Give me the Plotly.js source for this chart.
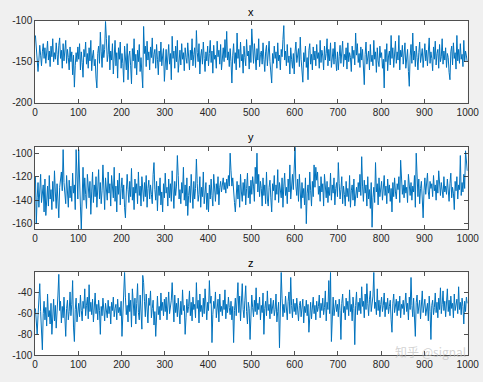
<!DOCTYPE html>
<html>
<head>
<meta charset="utf-8">
<script src="https://cdn.plot.ly/plotly-3.0.1.min.js"></script>
<style>
html,body{margin:0;padding:0;background:#f0f0f0;}
#chart{width:483px;height:382px;}
</style>
</head>
<body>
<div id="chart"></div>
<script>
// Sample numbers: every second sample of 1..1000
const sampleStart = 1;
const sampleStep = 2;

const seriesX = [
-118,-135,-150,-162,-148,-130,-142,-155,-138,-128,-146,-133,-152,-140,-125,-148,-137,-156,-131,-144,-122,-150,-139,-147,-127,
-141,-154,-130,-121,-146,-136,-158,-128,-149,-140,-124,-152,-135,-145,-160,-132,-150,-138,-166,-142,-181,-155,-139,-150,-132,
-147,-128,-160,-138,-151,-169,-135,-144,-126,-153,-140,-158,-133,-149,-124,-161,-143,-136,-155,-147,-170,-182,-140,-131,-152,
-114,-138,-157,-129,-145,-135,-101,-122,-150,-141,-118,-160,-137,-148,-128,-165,-143,-124,-155,-139,-170,-133,-147,-126,-158,
-140,-152,-175,-131,-146,-160,-128,-172,-143,-137,-155,-177,-134,-149,-122,-158,-141,-166,-136,-150,-129,-162,-145,-170,-182,
-107,-140,-131,-156,-125,-148,-138,-160,-132,-145,-121,-152,-141,-135,-158,-129,-147,-166,-137,-150,-126,-155,-143,-134,-174,
-148,-135,-160,-142,-129,-153,-140,-172,-119,-146,-137,-158,-131,-150,-124,-163,-142,-136,-154,-128,-147,-139,-161,-133,-145,
-152,-127,-144,-160,-136,-148,-122,-155,-141,-133,-157,-112,-139,-150,-128,-165,-143,-135,-153,-126,-146,-162,-138,-149,-131,
-155,-140,-124,-151,-137,-164,-130,-147,-142,-158,-125,-144,-136,-153,-129,-160,-141,-133,-150,-123,-145,-113,-148,-138,-156,
-134,-150,-176,-142,-128,-152,-139,-160,-115,-146,-135,-157,-126,-149,-141,-164,-131,-145,-155,-123,-143,-137,-159,-130,-151,
-110,-139,-152,-128,-145,-160,-134,-148,-122,-156,-141,-137,-153,-127,-147,-162,-138,-130,-155,-143,-125,-150,-166,-176,-140,
-152,-131,-146,-138,-158,-127,-149,-142,-160,-135,-144,-123,-106,-148,-137,-155,-129,-151,-143,-165,-133,-147,-158,-140,-165,
-138,-126,-151,-143,-134,-156,-120,-147,-162,-175,-139,-150,-131,-157,-145,-172,-136,-128,-153,-141,-160,-132,-148,-137,-155,
-129,-146,-139,-158,-124,-151,-136,-143,-160,-131,-148,-140,-122,-155,-135,-149,-127,-157,-142,-134,-153,-126,-147,-161,-138,
-160,-144,-130,-152,-137,-125,-156,-141,-148,-133,-159,-127,-150,-139,-145,-162,-131,-146,-136,-154,-115,-142,-128,-151,-140,
-157,-132,-148,-135,-164,-178,-141,-126,-153,-144,-137,-160,-129,-150,-142,-155,-124,-147,-138,-163,-133,-149,-156,-131,-145,
-139,-158,-147,-182,-135,-150,-128,-161,-143,-137,-154,-118,-146,-133,-157,-141,-125,-152,-138,-148,-118,-160,-136,-144,-130,
-153,-140,-127,-158,-146,-135,-162,-180,-143,-129,-152,-115,-148,-137,-156,-131,-145,-160,-139,-126,-151,-142,-134,-157,-140,
-128,-149,-136,-155,-143,-121,-152,-138,-146,-161,-132,-147,-125,-154,-140,-135,-158,-129,-150,-144,-122,-153,-137,-148,-133,
-157,-140,-145,-163,-172,-138,-131,-154,-127,-146,-139,-159,-118,-149,-135,-152,-128,-147,-141,-156,-124,-150,-137,-143,-150
];

const seriesY = [
-120,-160,-138,-125,-146,-130,-118,-142,-135,-127,-150,-122,-153,-136,-128,-145,-119,-139,-131,-148,-124,-141,-115,-133,-147,
-126,-138,-155,-129,-121,-116,-132,-97,-125,-136,-143,-119,-130,-146,-123,-138,-128,-141,-117,-134,-127,-148,-97,-122,-139,
-97,-131,-145,-165,-126,-112,-140,-121,-135,-147,-118,-129,-138,-124,-152,-133,-116,-142,-127,-137,-120,-146,-130,-114,-139,
-125,-143,-132,-110,-136,-148,-121,-129,-140,-116,-134,-126,-145,-119,-131,-138,-112,-141,-128,-150,-123,-135,-117,-144,-130,
-121,-139,-127,-146,-155,-133,-118,-131,-142,-124,-137,-113,-140,-129,-148,-122,-134,-126,-143,-116,-136,-128,-145,-120,-132,
-141,-125,-137,-119,-146,-130,-123,-139,-127,-135,-143,-118,-108,-131,-140,-124,-149,-128,-136,-121,-144,-133,-150,-126,-138,
-117,-134,-129,-145,-122,-138,-126,-141,-115,-132,-147,-124,-136,-128,-102,-119,-139,-131,-143,-125,-134,-112,-140,-127,-145,
-121,-153,-136,-128,-142,-118,-133,-147,-124,-139,-130,-105,-126,-141,-135,-120,-146,-129,-137,-116,-143,-131,-125,-148,-134,
-150,-127,-139,-122,-136,-145,-118,-132,-141,-126,-135,-120,-144,-129,-124,-133,-127,-121,-131,-125,-134,-122,-130,-119,-128,
-100,-115,-128,-121,-137,-142,-150,-131,-124,-139,-127,-146,-118,-133,-141,-125,-136,-122,-144,-130,-117,-138,-128,-143,-123,
-135,-120,-128,-141,-112,-126,-100,-133,-118,-137,-124,-130,-145,-121,-136,-127,-143,-116,-139,-145,-129,-123,-138,-150,-126,
-132,-119,-140,-127,-135,-114,-142,-125,-131,-138,-121,-146,-128,-117,-136,-129,-143,-122,-133,-110,-139,-126,-118,-131,-105,
-95,-128,-136,-122,-141,-118,-133,-147,-125,-138,-130,-144,-121,-160,-134,-127,-140,-116,-132,-145,-124,-137,-110,-129,-112,
-123,-116,-135,-128,-141,-120,-133,-126,-145,-118,-131,-138,-124,-142,-129,-136,-117,-140,-127,-134,-121,-144,-130,-125,-137,
-108,-126,-139,-131,-120,-143,-128,-135,-145,-124,-137,-130,-141,-119,-146,-132,-127,-140,-122,-145,-134,-129,-138,-125,-133,
-118,-136,-103,-128,-141,-123,-134,-127,-145,-120,-139,-131,-147,-125,-163,-138,-129,-142,-108,-133,-126,-144,-121,-137,-130,
-124,-140,-132,-119,-136,-128,-143,-122,-134,-127,-141,-130,-150,-125,-137,-121,-133,-139,-126,-131,-120,-142,-106,-129,-135,
-127,-138,-123,-134,-129,-142,-118,-131,-136,-125,-140,-128,-133,-119,-146,-100,-127,-137,-122,-143,-130,-124,-139,-155,-132,
-121,-135,-128,-117,-133,-139,-124,-130,-126,-137,-119,-132,-127,-140,-123,-134,-115,-129,-136,-125,-131,-138,-120,-133,-128,
-135,-122,-130,-141,-126,-117,-138,-129,-134,-148,-124,-132,-120,-139,-127,-131,-102,-136,-125,-133,-118,-130,-98,-112,-115
];

const seriesZ = [
-55,-68,-80,-62,-45,-31,-58,-73,-95,-60,-48,-66,-54,-72,-41,-63,-57,-70,-50,-80,-59,-46,-67,-52,-74,
-61,-42,-22,-57,-48,-69,-53,-64,-44,-70,-82,-55,-47,-66,-58,-39,-62,-51,-28,-73,-87,-56,-45,-68,-59,
-50,-63,-42,-57,-67,-48,-55,-36,-62,-52,-44,-65,-32,-58,-49,-61,-46,-68,-54,-40,-60,-51,-66,-47,-57,
-80,-53,-62,-45,-58,-67,-50,-56,-64,-47,-60,-53,-70,-49,-57,-44,-63,-55,-51,-66,-46,-59,-54,-62,-48,
-82,-57,-35,-20,-44,-61,-52,-68,-40,-58,-47,-73,-36,-55,-62,-45,-70,-50,-31,-59,-66,-42,-54,-75,-23,
-30,-48,-63,-41,-57,-69,-45,-52,-38,-64,-55,-47,-71,-58,-82,-50,-43,-61,-53,-66,-40,-57,-49,-62,-46,
-58,-44,-66,-51,-39,-60,-54,-47,-30,-56,-68,-42,-59,-50,-63,-45,-55,-70,-48,-61,-37,-57,-52,-80,-64,
-46,-59,-53,-38,-62,-49,-67,-44,-56,-51,-64,-30,-55,-47,-69,-41,-58,-52,-63,-45,-60,-36,-54,-66,-49,
-57,-28,-50,-43,-88,-61,-48,-55,-39,-64,-52,-46,-68,-41,-58,-53,-62,-47,-56,-37,-65,-51,-59,-44,-54,
-61,-48,-66,-53,-88,-57,-45,-62,-50,-30,-59,-43,-67,-52,-31,-56,-64,-47,-33,-58,-70,-49,-55,-85,-60,
-42,-54,-63,-47,-58,-35,-61,-50,-56,-44,-66,-52,-59,-40,-80,-55,-48,-62,-38,-57,-51,-65,-45,-60,-53,
-47,-62,-56,-41,-68,-58,-49,-93,-54,-20,-45,-63,-51,-59,-43,-57,-66,-48,-39,-60,-25,-52,-64,-46,-58,
-50,-61,-45,-57,-67,-52,-48,-63,-55,-46,-69,-53,-59,-47,-62,-51,-78,-56,-49,-65,-54,-44,-60,-52,-66,
-48,-58,-53,-42,-64,-50,-57,-45,-61,-54,-38,-67,-49,-56,-28,-60,-20,-87,-52,-44,-62,-55,-47,-58,-51,
-63,-46,-57,-85,-50,-41,-59,-53,-66,-45,-56,-48,-62,-37,-58,-51,-67,-44,-55,-90,-52,-39,-61,-49,-57,
-45,-60,-34,-53,-48,-64,-41,-56,-31,-50,-62,-46,-38,-58,-52,-43,-20,-55,-49,-61,-36,-57,-47,-63,-51,
-44,-58,-52,-40,-63,-49,-56,-45,-60,-53,-47,-66,-78,-50,-41,-59,-54,-46,-62,-48,-57,-43,-64,-51,-55,
-47,-61,-53,-40,-58,-50,-66,-44,-56,-25,-52,-63,-45,-58,-82,-49,-42,-60,-54,-47,-65,-51,-38,-59,-53,
-46,-62,-55,-50,-67,-43,-58,-85,-52,-47,-61,-54,-40,-59,-49,-64,-45,-56,-35,-60,-51,-38,-57,-48,-63,
-53,-36,-58,-47,-62,-43,-55,-50,-64,-41,-57,-52,-46,-60,-34,-56,-49,-61,-45,-53,-70,-48,-58,-44,-50
];

const panelTitles = ["x", "y", "z"];
const xTicks = [0,100,200,300,400,500,600,700,800,900,1000];
const yTicksX = [-200,-150,-100];
const yTicksY = [-160,-140,-120,-100];
const yTicksZ = [-100,-80,-60,-40];
const watermark = "知乎 @signal";

const samples = seriesX.map((_, i) => sampleStart + i * sampleStep);
const lineColor = "#0072BD";
const axColor = "#262626";
const font = {family: "Arial, 'Liberation Sans', Helvetica, sans-serif", size: 10, color: axColor};

function mkTrace(y, n) {
  return {x: samples, y: y, type: "scatter", mode: "lines",
    line: {color: lineColor, width: 1}, xaxis: "x" + (n === 1 ? "" : n), yaxis: "y" + (n === 1 ? "" : n),
    hoverinfo: "skip", showlegend: false};
}

const xDom = [35/483, 467.7/483];
function xAx(anchor) {
  return {domain: xDom, anchor: anchor, range: [0, 1000], tickvals: xTicks, ticktext: xTicks.map(String),
    ticks: "inside", ticklen: 4, tickcolor: axColor, tickwidth: 0.8, showline: true, linecolor: axColor, linewidth: 0.8,
    mirror: "ticks", showgrid: false, zeroline: false, tickfont: font, fixedrange: true};
}
function yAx(anchor, dom, range, ticks) {
  return {domain: dom, anchor: anchor, range: range, tickvals: ticks, ticktext: ticks.map(String),
    ticks: "inside", ticklen: 4, tickcolor: axColor, tickwidth: 0.8, showline: true, linecolor: axColor, linewidth: 0.8,
    mirror: "ticks", showgrid: false, zeroline: false, tickfont: font, fixedrange: true};
}

const doms = [[1-102.7/382, 1-20.7/382], [1-229/382, 1-146.7/382], [1-355/382, 1-272.3/382]];
const titleYs = [1-12/382, 1-137/382, 1-263/382];

const layout = {
  width: 483, height: 382,
  margin: {l: 0, r: 0, t: 0, b: 0},
  paper_bgcolor: "#f0f0f0", plot_bgcolor: "#ffffff",
  showlegend: false,
  xaxis: xAx("y"), xaxis2: xAx("y2"), xaxis3: xAx("y3"),
  yaxis: yAx("x", doms[0], [-200, -100], yTicksX),
  yaxis2: yAx("x2", doms[1], [-164.5, -94.5], yTicksY),
  yaxis3: yAx("x3", doms[2], [-100, -20], yTicksZ),
  annotations: panelTitles.map((t, i) => ({
    text: t, xref: "paper", yref: "paper", x: (xDom[0]+xDom[1])/2, y: titleYs[i],
    xanchor: "center", yanchor: "middle", showarrow: false,
    font: {family: "Arial, 'Liberation Sans', sans-serif", size: 11, color: "#000000"}
  })).concat([{
    text: watermark, xref: "paper", yref: "paper", x: 468/483, y: 1-351/382,
    xanchor: "right", yanchor: "middle", showarrow: false,
    font: {family: "'Noto Sans CJK SC', sans-serif", size: 12, color: "rgba(190,190,190,0.7)"}
  }])
};

Plotly.newPlot("chart", [mkTrace(seriesX, 1), mkTrace(seriesY, 2), mkTrace(seriesZ, 3)], layout, {staticPlot: true, displayModeBar: false});
</script>
</body>
</html>
